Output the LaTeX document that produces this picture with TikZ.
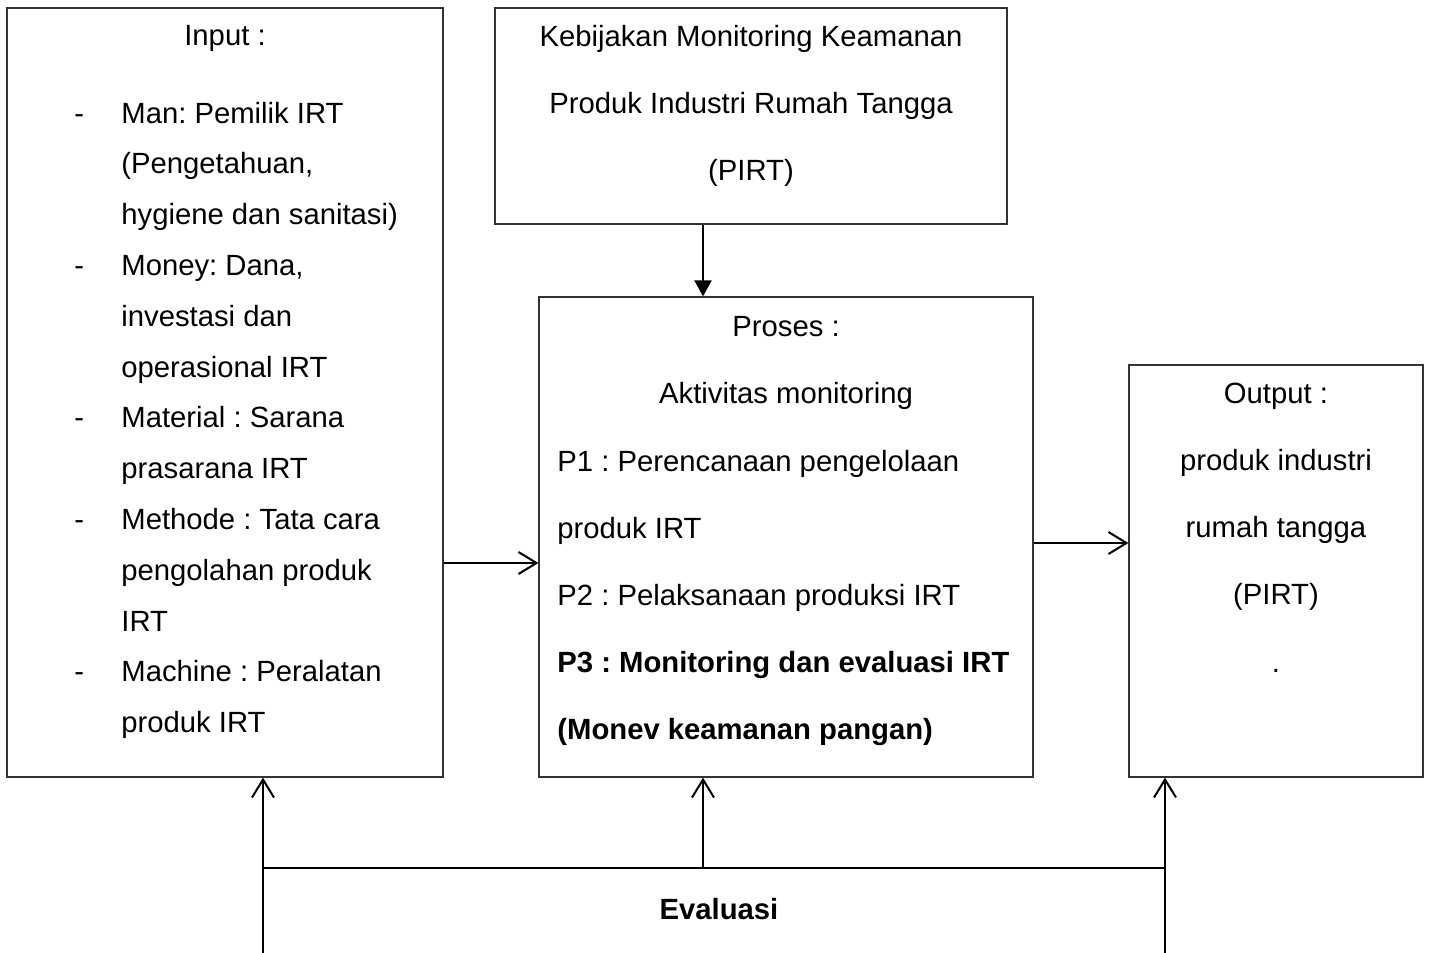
\documentclass[tikz,border=0pt]{standalone}
\usepackage{fontspec}
\setmainfont{Liberation Sans}
\usepackage{xcolor}
\usepackage{tikz}
\usetikzlibrary{arrows.meta, fit}
\frenchspacing

\newcommand{\lstdash}{\makebox[23.5pt][l]{-}}
\newcommand{\lstgap}{\hspace*{23.5pt}}

\begin{document}
\begin{tikzpicture}[x=0.5pt, y=-0.5pt, >=Stealth,
    box/.style={rectangle, draw=black!80, line width=0.6pt, inner sep=0pt},
    txt/.style={inner sep=0pt, font=\fontsize{14.63pt}{25.4pt}\selectfont},
    wtxt/.style={inner sep=0pt, font=\fontsize{14.63pt}{33.6pt}\selectfont},
    link/.style={line width=1pt, color=black},
    bar/.style={link, -{Straight Barb[length=9pt, width=11pt]}},
    tri/.style={link, -{Triangle[length=8pt, width=8.5pt]}}]
    \useasboundingbox (0,0) rectangle (1430,953);

    % Boxes
    \node (input) [box, fit={(7,8) (443,777)}] {};
    \node (kebijakan) [box, fit={(495,8) (1007,224)}] {};
    \node (proses) [box, fit={(539,297) (1033,777)}] {};
    \node (output) [box, fit={(1129,365) (1423,777)}] {};

    % Box texts
    \node (inHead) [txt, anchor=north] at (225,24.5) {Input :};
    \node (inList) [txt, align=left, anchor=north west] at (74,101.5)
        {\lstdash Man: Pemilik IRT\\ \lstgap(Pengetahuan,\\ \lstgap hygiene dan sanitasi)\\
         \lstdash Money: Dana,\\ \lstgap investasi dan\\ \lstgap operasional IRT\\
         \lstdash Material : Sarana\\ \lstgap prasarana IRT\\
         \lstdash Methode : Tata cara\\ \lstgap pengolahan produk\\ \lstgap IRT\\
         \lstdash Machine : Peralatan\\ \lstgap produk IRT};
    \node (kebTxt) [wtxt, align=center, anchor=north] at (751,24.5)
        {Kebijakan Monitoring Keamanan\\Produk Industri Rumah Tangga\\(PIRT)};
    \node (proHead) [wtxt, align=center, anchor=north] at (786,315.5)
        {Proses :\\Aktivitas monitoring};
    \node (proList) [wtxt, align=left, anchor=north west] at (557,449.5)
        {P1 : Perencanaan pengelolaan\\produk IRT\\P2 : Pelaksanaan produksi IRT\\
         \textbf{P3 : Monitoring dan evaluasi IRT}\\\textbf{(Monev keamanan pangan)}};
    \node (outTxt) [wtxt, align=center, anchor=north] at (1276,382.5)
        {Output :\\produk industri\\rumah tangga\\(PIRT)\\.};
    \node (evalLbl) [txt, font=\fontsize{14.63pt}{25.4pt}\selectfont\bfseries] at (719,909) {Evaluasi};

    % Feedback points
    \coordinate (jL) at (263,868);
    \coordinate (jM) at (703,868);
    \coordinate (jR) at (1165,868);
    \coordinate (bL) at (263,953);
    \coordinate (bR) at (1165,953);

    % Arrows
    \draw [tri] (kebijakan.south -| jM) -- (proses.north -| jM);
    \draw [bar] ([yshift=-85.25pt]input.east) -- ([yshift=-85.25pt]input.east -| proses.west);
    \draw [bar] ([yshift=-3pt]proses.east) -- ([yshift=-3pt]proses.east -| output.west);
    \draw [bar] (bL) -- (input.south -| bL);
    \draw [bar] (bR) -- (output.south -| bR);
    \draw [link] (jL) -- (jR);
    \draw [bar] (jM) -- (proses.south -| jM);
\end{tikzpicture}
\end{document}
